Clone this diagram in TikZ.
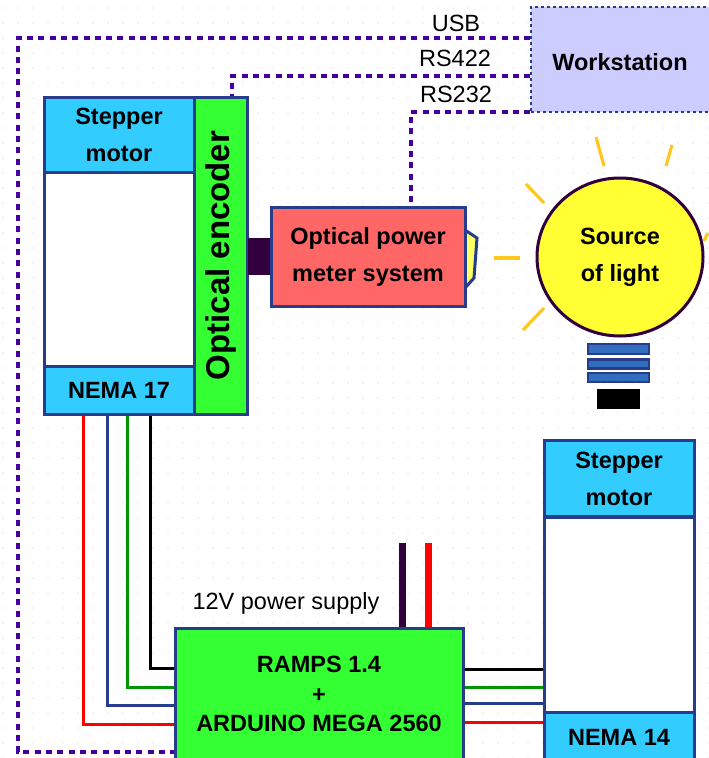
\documentclass[tikz,border=0pt]{standalone}
\usepackage{fontspec}
\setmainfont{Liberation Sans}
\usepackage{xcolor}
\usepackage{tikz}
\usetikzlibrary{calc,shapes.geometric}
\definecolor{navy}{RGB}{40,60,140}
\definecolor{linkviolet}{RGB}{70,0,160}
\definecolor{skyfill}{RGB}{51,204,255}
\definecolor{greenfill}{RGB}{51,255,51}
\definecolor{redfill}{RGB}{255,102,102}
\definecolor{lampfill}{RGB}{255,255,51}
\definecolor{capfill}{RGB}{255,255,102}
\definecolor{wsfill}{RGB}{204,204,255}
\definecolor{raycol}{RGB}{255,200,30}
\definecolor{darkplum}{RGB}{50,0,60}
\definecolor{wiregreen}{RGB}{0,150,0}
\definecolor{barfill}{RGB}{50,110,190}
\tikzset{
  blk/.style={draw=navy,line width=3pt,rectangle,align=center,inner sep=0pt,font=\fontsize{23.5}{37}\selectfont\bfseries},
  head/.style={blk,fill=skyfill,minimum width=150pt,minimum height=76pt},
  body/.style={blk,fill=white,minimum width=150pt},
  board/.style={blk,fill=greenfill},
  lbl/.style={align=center,inner sep=0pt,font=\fontsize{23.5}{28}\selectfont},
  link/.style={linkviolet,line width=4pt,dash pattern=on 6pt off 5.3pt},
  wire/.style={line width=3pt},
  ray/.style={raycol,line width=3.2pt},
  bar/.style={draw=navy,line width=2.5pt,fill=barfill,minimum width=61pt,inner sep=0pt},
}
\begin{document}
\begin{tikzpicture}[x=1pt,y=-1pt]
  \clip (0,0) rectangle (709,758);
  \fill[white] (0,0) rectangle (709,758);
  % faint grid
  \foreach \i in {0,...,47} {
    \foreach \j in {0,...,50} {
      \fill[gray!35] (3+15*\i,8+15*\j) circle (0.7pt);
    }
  }
  % first motor
  \node[head] (headA) at (119,135) {Stepper\\motor};
  \node[body,minimum height=194pt] (bodyA) at (119,269) {};
  \node[head,minimum height=48pt] (nemaA) at (119,390) {NEMA 17};
  \node[board,rotate=90,minimum width=317pt,minimum height=53pt,font=\fontsize{33}{38}\selectfont\bfseries] (encoder) at (220.5,255.5) {Optical encoder};
  % meter and lamp
  \node[fill=darkplum,minimum width=23pt,minimum height=37pt,inner sep=0pt] (coupler) at (259,256.5) {};
  \draw[draw=navy,line width=3pt,fill=capfill] (465,230) -- (477,238) -- (474,278) -- (465,288) -- cycle;
  \node[blk,fill=redfill,minimum width=194pt,minimum height=99pt] (meter) at (368,256.5) {Optical power\\meter system};
  \node[blk,ellipse,draw=darkplum,fill=lampfill,minimum width=166pt,minimum height=158pt] (lamp) at (620,257) {Source\\of light};
  \foreach \xa/\ya/\xb/\yb in {494/258/520/258,523/330/544/308,526/184/544/203,596/137/604/166,672/145/666/166,708/233/704/241} {
    \draw[ray] (\xa,\ya) -- (\xb,\yb);
  }
  \node[bar,minimum height=10pt] (barA) at (618.5,349) {};
  \node[bar,minimum height=9pt] (barB) at (618.5,364) {};
  \node[bar,minimum height=9pt] (barC) at (618.5,377.5) {};
  \node[fill=black,minimum width=43pt,minimum height=20pt,inner sep=0pt] (socket) at (618.5,399) {};
  % workstation
  \node[blk,dashed,draw=navy,line width=1.5pt,fill=wsfill,minimum width=200pt,minimum height=105pt] (workstation) at (631,59.5) {};
  \node[lbl,font=\fontsize{23.5}{28}\selectfont\bfseries] (wslabel) at (620,62) {Workstation};
  % second motor
  \node[head] (headB) at (619,478.5) {Stepper\\motor};
  \node[body,minimum height=195pt] (bodyB) at (619,614.5) {};
  \node[head,minimum height=50pt] (nemaB) at (619,737) {NEMA 14};
  % controller
  \node[board,minimum width=288pt,minimum height=132pt,font=\fontsize{23.5}{29.5}\selectfont\bfseries] (ramps) at (319,694) {RAMPS 1.4\\+\\ARDUINO MEGA 2560};
  % data links
  \draw[link] (workstation.west |- 0,38) -- (18,38) -- (18,752) -- (ramps.west |- 0,752);
  \draw[link] (workstation.west |- 0,76) -| (232,0 |- encoder.east);
  \draw[link] (workstation.west |- 0,112) -| (411,0 |- meter.north);
  \node[lbl] (usb) at (456,23) {USB};
  \node[lbl] (rsA) at (455,58) {RS422};
  \node[lbl] (rsB) at (456,94) {RS232};
  % motor wires
  \foreach \c/\xx/\yy in {red/83/724,navy/107/705,wiregreen/127/687,black/150/668} {
    \draw[wire,\c] (\xx,0 |- nemaA.south) |- (ramps.west |- 0,\yy);
  }
  \foreach \c/\yy in {black/669,wiregreen/687,navy/703,red/722} {
    \draw[wire,\c] (ramps.east |- 0,\yy) -- (bodyB.west |- 0,\yy);
  }
  % supply
  \coordinate (psuA) at (402,543);
  \coordinate (psuB) at (428,543);
  \draw[line width=7pt,darkplum] (psuA) -- (psuA |- ramps.north);
  \draw[line width=7pt,red] (psuB) -- (psuB |- ramps.north);
  \node[lbl] (psulabel) at (286,603) {12V power supply};
\end{tikzpicture}
\end{document}
